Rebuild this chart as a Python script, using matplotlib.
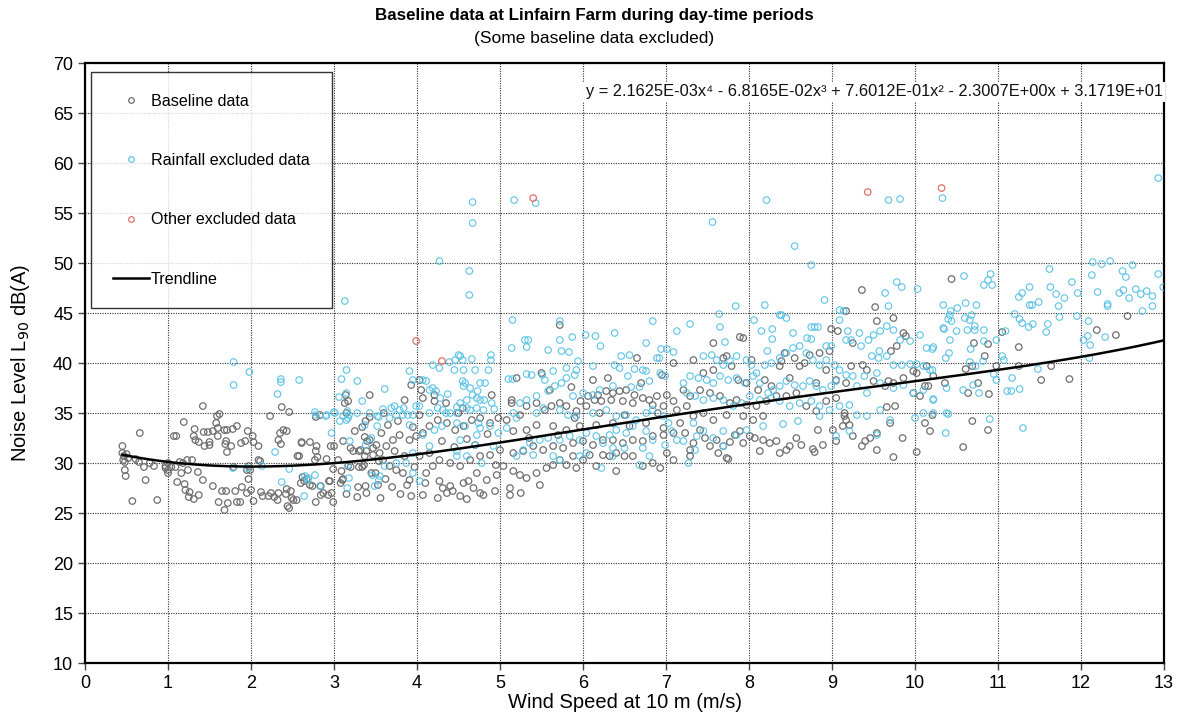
import numpy as np
import matplotlib
matplotlib.use("Agg")
import matplotlib.pyplot as plt
from matplotlib.lines import Line2D

plt.rcParams['font.family'] = ['Liberation Sans', 'DejaVu Sans']

# ---- Baseline data (wind speed m/s, L90 dB(A)) ----
baseline_0_2 = [
    (0.45, 31.7), (0.45, 31.0), (0.47, 30.7), (0.48, 30.1), (0.48, 29.3), (0.49, 28.7), (0.46, 30.3),
    (0.50, 30.9), (0.52, 30.5), (0.66, 33.0), (0.57, 26.2), (0.61, 30.4), (0.65, 30.1), (0.71, 29.6),
    (0.78, 30.0), (0.83, 29.7), (0.73, 28.3), (0.87, 26.3), (0.97, 29.7), (1.00, 30.0), (1.00, 29.3),
    (1.00, 29.0), (0.97, 29.5), (1.04, 29.6), (1.09, 29.6), (1.14, 30.1), (1.18, 30.0), (1.23, 30.3),
    (1.29, 30.3), (1.07, 32.7), (1.10, 32.7), (1.19, 34.1), (1.42, 35.7), (1.32, 33.4), (1.31, 32.7),
    (1.33, 32.3), (1.37, 32.1), (1.43, 33.1), (1.48, 33.1), (1.54, 33.2), (1.44, 31.7), (1.50, 31.8),
    (1.50, 32.1), (1.60, 33.5), (1.58, 34.0), (1.59, 34.7), (1.62, 34.9), (1.60, 32.7), (1.68, 33.3),
    (1.71, 33.3), (1.78, 33.4), (1.83, 33.7), (1.70, 32.2), (1.69, 31.9), (1.76, 31.7), (1.71, 31.1),
    (1.88, 32.0), (1.93, 32.2), (1.96, 33.2), (1.11, 28.1), (1.20, 27.9), (1.21, 27.3), (1.26, 27.1),
    (1.25, 26.6), (1.31, 26.4), (1.37, 26.8), (1.36, 29.1), (1.24, 29.3), (1.16, 29.0), (1.42, 28.3),
    (1.54, 27.7), (1.61, 26.1), (1.65, 27.2), (1.70, 27.2), (1.68, 25.3), (1.72, 26.0), (1.81, 27.2),
    (1.83, 26.1), (1.87, 26.1), (1.89, 27.6), (1.95, 27.0), (1.97, 28.4), (1.95, 29.3), (1.79, 29.6),
    (1.97, 29.7), (1.99, 29.3),
]
baseline_2_3 = [
    (2.00, 27.3), (2.03, 26.2), (2.03, 32.1), (2.09, 31.7), (2.02, 32.7), (2.09, 30.3), (2.11, 30.2),
    (2.12, 27.1), (2.14, 26.7), (2.21, 26.7), (2.24, 27.0), (2.28, 26.6), (2.32, 26.3), (2.33, 27.0),
    (2.43, 27.4), (2.42, 26.9), (2.48, 27.2), (2.44, 25.7), (2.46, 25.5), (2.51, 26.3), (2.55, 26.3),
    (2.49, 26.5), (2.23, 34.7), (2.37, 35.6), (2.46, 35.1), (2.35, 33.0), (2.39, 33.3), (2.43, 33.2),
    (2.33, 32.3), (2.36, 31.9), (2.61, 32.1), (2.71, 32.1), (2.61, 32.0), (2.58, 30.7), (2.56, 30.7),
    (2.79, 31.7), (2.78, 31.2), (2.80, 30.6), (2.77, 30.3), (2.91, 30.4), (2.96, 31.7), (2.60, 28.0),
    (2.64, 28.2), (2.71, 27.8), (2.74, 27.7), (2.84, 27.7), (2.87, 27.0), (2.93, 26.8), (2.97, 27.0),
    (2.99, 26.1), (2.78, 26.1), (2.84, 26.8), (2.95, 28.2), (2.62, 28.6), (2.67, 28.4), (2.94, 28.2),
    (2.99, 29.4), (2.78, 34.6), (2.83, 34.8),
]
baseline_3_4 = [
    (3.00, 31.7), (3.10, 28.3), (3.08, 28.0), (3.29, 27.6), (3.38, 27.7), (3.39, 27.0), (3.56, 26.5),
    (3.17, 29.7), (3.20, 29.6), (3.30, 29.6), (3.34, 29.6), (3.36, 29.8), (3.09, 29.2), (3.11, 28.4),
    (3.14, 36.8), (3.17, 36.2), (3.43, 36.8), (3.15, 35.0), (3.38, 34.2), (3.34, 33.6), (3.37, 32.6),
    (3.40, 32.2), (3.43, 32.3), (3.47, 31.5), (3.51, 31.8), (3.39, 31.2), (3.37, 30.7), (3.32, 31.3),
    (3.30, 31.2), (3.23, 31.2), (3.47, 30.8), (3.54, 30.2), (3.11, 32.2), (3.20, 31.5), (3.13, 36.0),
    (3.43, 34.6), (3.05, 30.3), (3.25, 33.2), (3.45, 29.0), (3.28, 26.6), (3.15, 26.9),
    (3.93, 37.8), (3.71, 32.3), (3.63, 31.7), (3.57, 33.0), (3.55, 31.0), (3.79, 32.8), (3.91, 32.3),
    (3.99, 32.7), (3.59, 30.3), (3.67, 29.7), (3.75, 29.3), (3.83, 29.0), (3.91, 28.3), (3.93, 26.7),
    (3.73, 31.2), (3.85, 30.7), (3.62, 28.4), (3.70, 27.6), (3.80, 26.9), (3.88, 27.8), (3.97, 29.6),
    (3.65, 33.8), (3.77, 34.2), (3.95, 33.6), (3.60, 35.0), (3.85, 36.3), (3.50, 29.0), (3.53, 27.8),
]
baseline_4_5 = [
    (4.05, 37.3), (4.21, 36.8), (4.07, 36.5), (4.21, 36.2), (4.03, 34.8), (4.03, 38.3), (4.76, 34.5),
    (4.66, 34.3), (4.56, 33.7), (4.46, 33.3), (4.36, 34.0), (4.25, 34.3), (4.15, 33.7), (4.07, 33.0),
    (4.88, 34.0), (4.98, 34.5), (4.07, 26.8), (4.11, 29.0), (4.19, 29.7), (4.27, 28.2), (4.31, 27.5),
    (4.36, 27.0), (4.40, 27.7), (4.43, 27.2), (4.52, 26.7), (4.56, 28.0), (4.62, 28.2), (4.68, 27.5),
    (4.76, 27.0), (4.80, 26.8), (4.84, 28.3), (4.94, 27.2), (4.96, 28.8), (4.03, 30.7), (4.15, 31.0),
    (4.27, 30.3), (4.40, 30.0), (4.52, 29.7), (4.64, 30.3), (4.76, 30.7), (4.88, 30.8), (4.45, 31.6),
    (4.60, 32.4), (4.30, 32.2), (4.70, 31.8), (4.85, 32.9), (4.55, 35.5), (4.35, 36.0), (4.90, 36.8),
    (4.10, 28.0), (4.25, 26.5), (4.60, 26.4), (4.72, 29.0), (4.95, 29.8), (4.50, 35.0),
]
baseline_5_6 = [
    (5.72, 43.8), (5.14, 36.3), (5.14, 36.0), (5.60, 37.3), (5.86, 37.6), (5.97, 36.2), (5.92, 35.2),
    (5.80, 35.7), (5.72, 36.0), (5.62, 35.7), (5.54, 35.3), (5.44, 36.0), (5.32, 35.7), (5.24, 34.8),
    (5.08, 34.3), (5.04, 29.7), (5.12, 27.5), (5.12, 26.8), (5.16, 29.2), (5.24, 28.8), (5.32, 28.5),
    (5.44, 29.0), (5.56, 29.5), (5.64, 29.8), (5.72, 30.3), (5.80, 29.8), (5.88, 30.7), (5.92, 29.5),
    (5.00, 31.3), (5.16, 31.0), (5.28, 31.2), (5.40, 31.7), (5.52, 31.3), (5.64, 31.7), (5.76, 31.5),
    (5.88, 32.0), (5.80, 33.3), (5.96, 33.7), (5.64, 33.7), (5.44, 33.8), (5.32, 33.3), (5.16, 33.2),
    (5.20, 38.5), (5.50, 39.0), (5.35, 32.5), (5.70, 32.8), (5.90, 34.5), (5.25, 27.0), (5.48, 27.8),
]
baseline_6_7 = [
    (6.12, 38.3), (6.95, 38.8), (6.06, 36.7), (6.18, 36.8), (6.28, 37.2), (6.36, 37.0), (6.44, 37.2),
    (6.52, 37.3), (6.62, 36.8), (6.72, 36.5), (6.80, 36.3), (6.89, 36.7), (6.97, 35.7), (6.84, 35.8),
    (6.60, 36.0), (6.48, 36.2), (6.34, 36.3), (6.22, 36.2), (6.14, 36.3), (6.04, 35.7), (6.00, 30.3),
    (6.08, 30.8), (6.16, 29.7), (6.24, 30.8), (6.32, 30.7), (6.40, 31.0), (6.50, 30.7), (6.60, 30.7),
    (6.72, 29.7), (6.84, 30.0), (6.93, 29.5), (6.00, 32.2), (6.12, 31.8), (6.24, 32.3), (6.36, 32.3),
    (6.48, 32.0), (6.60, 32.3), (6.72, 32.2), (6.84, 32.7), (6.97, 32.8), (6.16, 33.8), (6.36, 34.0),
    (6.56, 33.7), (6.76, 34.0), (6.97, 33.5), (6.30, 38.5), (6.70, 38.0), (6.50, 34.8), (6.90, 35.0),
    (6.20, 35.0), (6.65, 40.5), (6.40, 29.2),
]
baseline_7_8 = [
    (7.09, 40.0), (7.01, 36.8), (7.09, 36.2), (7.13, 35.3), (7.01, 31.0), (7.09, 30.3), (7.09, 33.0),
    (7.33, 40.3), (7.45, 39.0), (7.57, 39.3), (7.69, 40.5), (7.73, 40.7), (7.79, 39.7), (7.87, 38.3),
    (7.97, 38.0), (7.85, 36.3), (7.77, 36.0), (7.65, 36.7), (7.53, 37.0), (7.41, 37.3), (7.29, 36.7),
    (7.21, 37.3), (7.97, 35.8), (7.93, 34.7), (7.73, 34.8), (7.57, 34.3), (7.45, 35.0), (7.33, 34.7),
    (7.25, 35.7), (7.57, 42.0), (7.89, 42.6), (7.93, 42.5), (7.93, 32.0), (7.89, 33.2), (7.83, 32.8),
    (7.77, 32.1), (7.73, 30.5), (7.75, 30.4), (7.69, 31.7), (7.61, 32.3), (7.63, 31.0), (7.53, 31.7),
    (7.47, 32.5), (7.41, 33.3), (7.33, 32.0), (7.29, 31.3), (7.29, 30.7), (7.23, 33.0), (7.17, 34.0),
]
baseline_8_9 = [
    (8.03, 40.3), (8.11, 37.3), (8.19, 38.3), (8.27, 37.7), (8.37, 39.7), (8.43, 41.0), (8.49, 38.5),
    (8.55, 40.5), (8.61, 39.7), (8.67, 40.0), (8.73, 40.8), (8.81, 38.0), (8.85, 41.0), (8.93, 39.3),
    (8.97, 41.2), (8.39, 40.2), (8.09, 35.7), (8.21, 36.2), (8.33, 36.7), (8.45, 36.7), (8.57, 37.0),
    (8.69, 35.7), (8.81, 35.2), (8.93, 36.2), (8.17, 34.7), (8.05, 34.3), (8.99, 43.4), (8.83, 33.3),
    (8.89, 31.8), (8.77, 31.4), (8.79, 31.1), (8.63, 31.8), (8.57, 32.5), (8.49, 31.7), (8.45, 31.3),
    (8.37, 31.0), (8.33, 32.2), (8.25, 32.0), (8.17, 32.3), (8.13, 31.2), (8.07, 32.5), (8.01, 32.7),
]
baseline_9_10 = [
    (9.05, 38.3), (9.17, 38.0), (9.23, 39.7), (9.05, 36.5), (9.15, 35.0), (9.07, 43.2), (9.17, 45.2),
    (9.54, 44.2), (9.74, 44.5), (9.86, 43.0), (9.89, 42.7), (9.25, 42.0), (9.78, 41.7), (9.71, 41.2),
    (9.98, 39.2), (9.68, 38.2), (9.36, 47.3), (9.52, 45.6), (9.74, 30.6), (9.85, 32.5), (9.70, 34.0),
    (9.66, 35.6), (9.76, 35.7), (9.54, 31.3), (9.36, 31.7), (9.40, 32.2), (9.46, 32.5), (9.54, 33.0),
    (9.25, 32.7), (9.17, 34.3), (9.21, 33.8), (9.15, 34.7), (9.13, 33.7), (9.01, 33.3), (9.05, 32.2),
    (9.37, 39.8), (9.42, 39.3), (9.50, 38.2), (9.64, 37.7), (9.74, 38.0), (9.86, 38.5), (9.98, 37.0),
]
baseline_10_13 = [
    (10.02, 39.0), (10.16, 37.7), (10.06, 36.7), (10.12, 37.7), (10.22, 38.7), (10.14, 39.7),
    (10.02, 31.1), (10.12, 34.0), (10.44, 48.4), (11.05, 43.1), (10.71, 42.0), (10.88, 41.9),
    (10.84, 40.7), (10.61, 39.4), (10.69, 39.7), (10.98, 39.7), (10.36, 38.0), (10.76, 38.0),
    (10.64, 37.0), (10.89, 36.9), (10.21, 34.8), (10.18, 33.2), (10.69, 34.2), (10.88, 33.3),
    (10.58, 31.6), (11.25, 41.6), (11.25, 39.7), (11.64, 39.7), (11.52, 38.3), (11.86, 38.4),
    (12.19, 43.3), (12.42, 42.8), (12.56, 44.7),
]

# ---- Rainfall excluded data ----
rain_1_4 = [
    (1.79, 40.1), (1.98, 39.1), (1.79, 37.8), (2.36, 38.4), (2.36, 38.1), (2.58, 38.3), (2.32, 36.9),
    (2.29, 31.1), (1.78, 29.5), (2.13, 29.7), (1.95, 29.5), (2.46, 29.4), (2.37, 28.1), (2.64, 26.7),
    (2.65, 28.7), (2.69, 28.5), (2.77, 28.8), (2.68, 28.3), (2.83, 27.7), (2.78, 34.8), (2.90, 34.7),
    (2.97, 33.0), (2.77, 35.1), (2.91, 34.8), (3.01, 35.0), (3.06, 36.6), (3.15, 37.0), (3.07, 34.2),
    (3.15, 34.3), (3.16, 35.2), (3.18, 34.8), (3.28, 35.0), (3.28, 38.2), (3.34, 36.2), (3.43, 35.0),
    (3.52, 34.7), (3.52, 33.7), (3.37, 33.8), (3.38, 31.8), (3.45, 32.5), (3.19, 32.2), (3.17, 29.8),
    (3.18, 28.5), (3.16, 27.5), (3.46, 28.8), (3.49, 27.7), (3.54, 28.3), (3.13, 46.2), (3.15, 39.3),
    (3.09, 38.4), (3.00, 35.1), (3.11, 34.7), (3.17, 34.5), (3.54, 34.6), (3.91, 39.2), (3.95, 38.3),
    (3.61, 37.4), (3.89, 34.8), (3.84, 35.5), (3.79, 35.3), (3.73, 35.7), (3.69, 35.5), (3.75, 34.8),
    (3.67, 34.5), (3.83, 34.8), (3.59, 35.4), (3.95, 34.8), (3.99, 35.7), (3.91, 33.8), (3.95, 31.0),
    (3.87, 30.0), (3.75, 30.0), (3.61, 29.7), (3.95, 29.0), (3.55, 28.7),
]
rain_4_5 = [
    (4.50, 40.8), (4.52, 40.7), (4.46, 40.3), (4.55, 40.3), (4.39, 40.1), (4.66, 40.4), (4.89, 40.8),
    (4.89, 40.3), (4.86, 39.3), (4.56, 39.3), (4.70, 39.3), (4.45, 39.3), (4.19, 39.8), (4.27, 39.5),
    (4.07, 38.3), (4.11, 38.2), (4.19, 37.5), (4.15, 37.3), (4.23, 37.2), (4.55, 38.2), (4.58, 38.0),
    (4.56, 37.7), (4.64, 37.5), (4.73, 37.2), (4.76, 38.0), (4.82, 38.0), (4.67, 36.8), (4.72, 36.5),
    (4.76, 36.3), (4.81, 36.3), (4.60, 36.3), (4.37, 36.9), (4.28, 36.5), (4.52, 36.0), (4.48, 35.6),
    (4.60, 35.5), (4.64, 35.3), (4.72, 35.5), (4.80, 35.3), (4.93, 35.4), (4.90, 36.0), (4.25, 35.5),
    (4.31, 35.3), (4.35, 35.0), (4.40, 35.0), (4.48, 35.0), (4.03, 35.7), (4.15, 35.0), (4.07, 32.8),
    (4.30, 33.7), (4.21, 33.3), (4.48, 34.0), (4.58, 33.7), (4.74, 34.0), (4.72, 32.8), (4.76, 33.5),
    (4.88, 33.7), (4.98, 33.0), (4.52, 32.3), (4.70, 31.8), (4.78, 30.0), (4.60, 30.7), (4.48, 30.7),
    (4.92, 31.7), (4.48, 31.2), (4.15, 31.7), (4.03, 28.2), (4.67, 56.1), (4.67, 54.0), (4.27, 50.2),
    (4.63, 49.2), (4.63, 46.8),
]
rain_5_6 = [
    (5.17, 56.3), (5.43, 56.0), (5.15, 44.3), (5.72, 44.2), (5.87, 42.6), (5.30, 42.3), (5.34, 42.3),
    (5.32, 41.6), (5.72, 42.3), (5.14, 41.5), (5.58, 41.3), (5.74, 41.2), (5.83, 41.1), (5.10, 38.4),
    (5.15, 38.4), (5.32, 38.9), (5.38, 38.8), (5.51, 38.8), (5.54, 38.3), (5.64, 39.2), (5.80, 38.5),
    (5.90, 38.8), (5.80, 39.5), (5.92, 39.3), (5.94, 40.2), (5.74, 38.0), (5.66, 37.7), (5.58, 37.2),
    (5.44, 36.7), (5.32, 36.3), (5.24, 36.0), (5.16, 35.0), (5.20, 34.5), (5.44, 35.0), (5.52, 35.5),
    (5.72, 35.3), (5.82, 34.8), (5.92, 34.7), (5.96, 32.3), (5.84, 32.7), (5.72, 32.3), (5.58, 32.5),
    (5.48, 32.3), (5.36, 32.0), (5.28, 31.3), (5.20, 30.7), (5.40, 30.8), (5.72, 30.3), (5.64, 30.7),
    (5.96, 30.7), (5.88, 36.7), (5.08, 33.5),
]
rain_6_7 = [
    (6.03, 42.8), (6.84, 44.2), (6.38, 43.0), (6.15, 42.7), (6.76, 42.0), (6.94, 41.4), (6.21, 41.7),
    (6.56, 40.8), (6.46, 40.7), (6.89, 40.5), (6.92, 40.5), (6.12, 39.7), (6.38, 39.8), (6.44, 39.5),
    (6.62, 39.4), (6.72, 39.3), (6.76, 39.2), (6.93, 39.0), (6.99, 38.7), (6.80, 38.2), (6.54, 38.7),
    (6.68, 37.6), (6.58, 37.6), (6.36, 37.7), (6.20, 37.3), (6.12, 36.8), (6.00, 37.0), (6.12, 35.0),
    (6.28, 35.3), (6.40, 34.7), (6.52, 34.8), (6.64, 34.3), (6.76, 35.0), (6.84, 35.3), (6.97, 34.7),
    (6.76, 33.2), (6.60, 33.7), (6.52, 33.0), (6.40, 33.3), (6.32, 32.8), (6.16, 32.7), (6.04, 33.0),
    (6.04, 31.0), (6.24, 32.0), (6.36, 31.5), (6.50, 31.5), (6.72, 31.5), (6.84, 32.3), (6.99, 31.8),
    (6.68, 29.8), (6.22, 29.5), (6.36, 30.7), (6.80, 30.7),
]
rain_7_8 = [
    (7.13, 43.2), (7.01, 41.4), (7.09, 41.1), (7.03, 34.0), (7.07, 33.2), (7.13, 32.3), (7.56, 54.1),
    (7.84, 45.7), (7.29, 43.9), (7.64, 44.9), (7.65, 43.6), (7.71, 42.1), (7.45, 40.7), (7.55, 40.8),
    (7.61, 40.3), (7.69, 39.8), (7.77, 40.2), (7.85, 40.7), (7.97, 40.3), (7.85, 38.5), (7.75, 38.3),
    (7.65, 38.7), (7.57, 38.0), (7.49, 38.3), (7.39, 38.5), (7.29, 38.7), (7.21, 38.0), (7.25, 37.0),
    (7.35, 36.7), (7.45, 36.3), (7.57, 36.5), (7.69, 36.3), (7.81, 35.7), (7.91, 36.0), (7.95, 38.0),
    (7.33, 34.0), (7.45, 33.2), (7.57, 32.5), (7.69, 33.2), (7.69, 31.7), (7.85, 32.8), (7.97, 33.3),
    (7.27, 30.0), (7.35, 31.3), (7.21, 32.2), (7.37, 32.7),
]
rain_8_9 = [
    (8.21, 56.3), (8.55, 51.7), (8.75, 49.8), (8.19, 45.8), (8.91, 46.3), (8.06, 44.3), (8.15, 43.2),
    (8.28, 43.4), (8.28, 42.4), (8.22, 41.2), (8.37, 44.8), (8.39, 44.8), (8.45, 44.5), (8.53, 43.0),
    (8.75, 43.6), (8.79, 43.6), (8.83, 43.6), (8.70, 42.5), (8.75, 42.4), (8.93, 41.7), (8.99, 41.7),
    (8.03, 39.8), (8.09, 39.0), (8.19, 39.8), (8.27, 40.0), (8.37, 40.5), (8.45, 41.0), (8.53, 41.5),
    (8.61, 41.7), (8.69, 41.0), (8.77, 40.3), (8.85, 39.8), (8.93, 40.3), (8.99, 37.7), (8.89, 37.3),
    (8.81, 37.7), (8.73, 38.2), (8.65, 37.7), (8.55, 37.8), (8.45, 38.2), (8.37, 37.7), (8.29, 37.3),
    (8.23, 37.0), (8.13, 38.0), (8.05, 38.7), (8.01, 36.7), (8.13, 36.3), (8.27, 36.5), (8.37, 36.2),
    (8.49, 35.7), (8.61, 36.0), (8.75, 36.2), (8.85, 35.7), (8.97, 35.3), (8.17, 33.7), (8.41, 33.9),
    (8.59, 34.2), (8.85, 34.7),
]
rain_9_10 = [
    (9.68, 56.3), (9.82, 56.4), (9.78, 48.1), (9.84, 47.6), (9.64, 47.0), (9.68, 45.7), (9.09, 45.3),
    (9.14, 45.2), (9.09, 44.3), (9.19, 43.2), (9.23, 42.3), (9.17, 42.3), (9.33, 43.0), (9.44, 42.3),
    (9.50, 42.8), (9.58, 43.2), (9.66, 43.7), (9.74, 43.3), (9.82, 42.3), (9.94, 42.2), (9.35, 41.7),
    (9.48, 40.7), (9.57, 41.2), (9.66, 40.7), (9.56, 40.5), (9.74, 39.8), (9.84, 39.8), (9.94, 39.9),
    (9.03, 39.8), (9.09, 39.3), (9.17, 38.8), (9.25, 38.7), (9.05, 38.2), (9.39, 38.7), (9.30, 37.7),
    (9.42, 37.0), (9.58, 38.0), (9.74, 37.5), (9.86, 37.8), (9.54, 39.0), (9.98, 37.0), (9.09, 35.7),
    (9.21, 35.8), (9.30, 34.8), (9.42, 34.7), (9.58, 35.3), (9.70, 34.3), (9.05, 32.7), (9.21, 33.2),
    (9.54, 32.8),
]
rain_10_11 = [
    (10.33, 56.5), (10.03, 47.4), (10.59, 48.7), (10.91, 48.9), (10.88, 48.3), (10.83, 47.8),
    (10.93, 47.8), (10.34, 45.8), (10.51, 45.5), (10.43, 45.2), (10.44, 44.2), (10.40, 44.4),
    (10.68, 44.8), (10.66, 44.3), (10.61, 46.0), (10.74, 45.8), (10.35, 43.4), (10.50, 43.2),
    (10.63, 43.3), (10.83, 43.3), (10.42, 42.3), (10.72, 43.7), (10.83, 42.2), (10.98, 42.3),
    (10.67, 41.4), (10.37, 40.5), (10.41, 41.0), (10.82, 40.2), (10.66, 40.1), (10.73, 39.7),
    (10.95, 38.9), (10.98, 38.3), (10.21, 41.4), (10.21, 39.3), (10.22, 36.4), (10.40, 34.9),
    (10.37, 33.0), (10.90, 34.4), (10.77, 37.0), (10.06, 42.8), (10.14, 41.5), (10.22, 41.6),
    (10.34, 43.5), (10.42, 44.8), (10.60, 44.5), (10.72, 43.3), (10.10, 39.7), (10.18, 39.3),
    (10.02, 39.9), (10.10, 37.3), (10.22, 36.3), (10.38, 37.5), (10.58, 37.3), (10.70, 37.8),
    (10.10, 35.0), (10.38, 35.0), (10.00, 34.5), (10.22, 35.0),
]
rain_11_13 = [
    (11.09, 43.2), (11.05, 40.7), (11.07, 40.3), (11.17, 38.5), (11.48, 39.4), (11.11, 37.2),
    (11.16, 37.2), (11.26, 37.4), (11.30, 33.5), (11.25, 46.6), (11.29, 47.0), (11.38, 47.6),
    (11.38, 45.8), (11.41, 45.8), (11.49, 46.1), (11.20, 44.9), (11.26, 44.4), (11.29, 44.0),
    (11.37, 43.6), (11.42, 43.9), (11.58, 43.1), (11.60, 43.9), (11.62, 49.4), (11.63, 47.6),
    (11.70, 46.9), (11.80, 46.5), (11.73, 45.7), (11.74, 44.6), (11.89, 48.1), (11.96, 47.0),
    (11.95, 44.7), (12.14, 50.1), (12.25, 49.9), (12.35, 50.2), (12.13, 48.8), (12.20, 47.1),
    (12.09, 44.2), (12.03, 42.3), (12.08, 42.7), (12.11, 41.8), (12.29, 42.6), (12.32, 45.9),
    (12.32, 45.7), (12.50, 49.2), (12.54, 48.6), (12.62, 49.8), (12.51, 47.3), (12.46, 47.0),
    (12.58, 46.5), (12.66, 47.4), (12.72, 46.9), (12.79, 47.2), (12.86, 46.7), (12.86, 45.7),
    (12.74, 45.2), (12.93, 48.9), (12.99, 47.6), (12.10, 40.5), (12.93, 58.5),
]

# ---- Other excluded data ----
other_excluded = [(3.99, 42.2), (4.30, 40.2), (5.40, 56.5), (9.43, 57.1), (10.32, 57.5)]

# Trendline: 4th order polynomial fit (highest power first)
trend_coeffs = [2.1625e-03, -6.8165e-02, 7.6012e-01, -2.3007e+00, 3.1719e+01]
trend_range = (0.45, 13.0)
equation_text = ("y = 2.1625E-03x\u2074 - 6.8165E-02x\u00b3 + 7.6012E-01x\u00b2 "
                 "- 2.3007E+00x + 3.1719E+01")

x_ticks = list(range(0, 14))
y_ticks = list(range(10, 75, 5))

GREY = "#6e6e6e"
BLUE = "#5cc3e6"
RED = "#e0706a"


def as_xy(*groups):
    pts = np.array([p for g in groups for p in g], dtype=float)
    return pts[:, 0], pts[:, 1]


bx, by = as_xy(baseline_0_2, baseline_2_3, baseline_3_4, baseline_4_5, baseline_5_6,
               baseline_6_7, baseline_7_8, baseline_8_9, baseline_9_10, baseline_10_13)
rx, ry = as_xy(rain_1_4, rain_4_5, rain_5_6, rain_6_7, rain_7_8, rain_8_9, rain_9_10,
               rain_10_11, rain_11_13)
ox, oy = as_xy(other_excluded)

fig = plt.figure(figsize=(11.89, 7.25), dpi=100)
ax = fig.add_axes([0.0715, 0.0855, 0.9075, 0.8275])

ms = 22
ax.scatter(bx, by, s=ms, facecolors="none", edgecolors=GREY, linewidths=0.9, zorder=3)
ax.scatter(rx, ry, s=ms, facecolors="none", edgecolors=BLUE, linewidths=0.8, zorder=3)
ax.scatter(ox, oy, s=ms, facecolors="none", edgecolors=RED, linewidths=0.9, zorder=3)

tx = np.linspace(trend_range[0], trend_range[1], 300)
ax.plot(tx, np.polyval(trend_coeffs, tx), color="black", lw=1.8, zorder=4)

ax.set_xlim(0, 13)
ax.set_ylim(10, 70)
ax.set_xticks(x_ticks)
ax.set_yticks(y_ticks)
ax.tick_params(axis="both", labelsize=13, direction="out", length=5, width=1, color="#444444")
ax.grid(True, which="major", color="#333333", linestyle=(0, (1, 1.2)), linewidth=0.8)
ax.set_axisbelow(True)
for sp in ax.spines.values():
    sp.set_linewidth(1.6)
    sp.set_color("black")

ax.set_xlabel("Wind Speed at 10 m (m/s)", fontsize=14.5, labelpad=1)
ax.set_ylabel("Noise Level L$_{90}$ dB(A)", fontsize=14.5, labelpad=15)

fig.text(0.5, 0.979, "Baseline data at Linfairn Farm during day-time periods",
         ha="center", va="center", fontsize=12.2, fontweight="bold")
fig.text(0.5, 0.947, "(Some baseline data excluded)", ha="center", va="center", fontsize=12.5)

ax.text(0.9985, 0.952, equation_text, transform=ax.transAxes, ha="right", va="center",
        fontsize=11.8, color="#111111",
        bbox=dict(facecolor="white", edgecolor="none", pad=2), zorder=6)

handles = [
    Line2D([], [], ls="none", marker="o", mfc="none", mec=GREY, ms=4, mew=0.9),
    Line2D([], [], ls="none", marker="o", mfc="none", mec=BLUE, ms=4, mew=0.9),
    Line2D([], [], ls="none", marker="o", mfc="none", mec=RED, ms=4, mew=0.9),
    Line2D([], [], color="black", lw=1.8),
]
labels = ["Baseline data", "Rainfall excluded data", "Other excluded data", "Trendline"]
leg = ax.legend(handles, labels, loc="upper left", bbox_to_anchor=(0.006, 0.985),
                borderaxespad=0, fontsize=11.6, labelspacing=2.75, borderpad=1.35,
                handlelength=2.2, handletextpad=0.15, frameon=True, fancybox=False)
leg.get_frame().set_edgecolor("black")
leg.get_frame().set_linewidth(1.0)
leg.set_zorder(7)

fig.savefig("out.png", dpi=100)
